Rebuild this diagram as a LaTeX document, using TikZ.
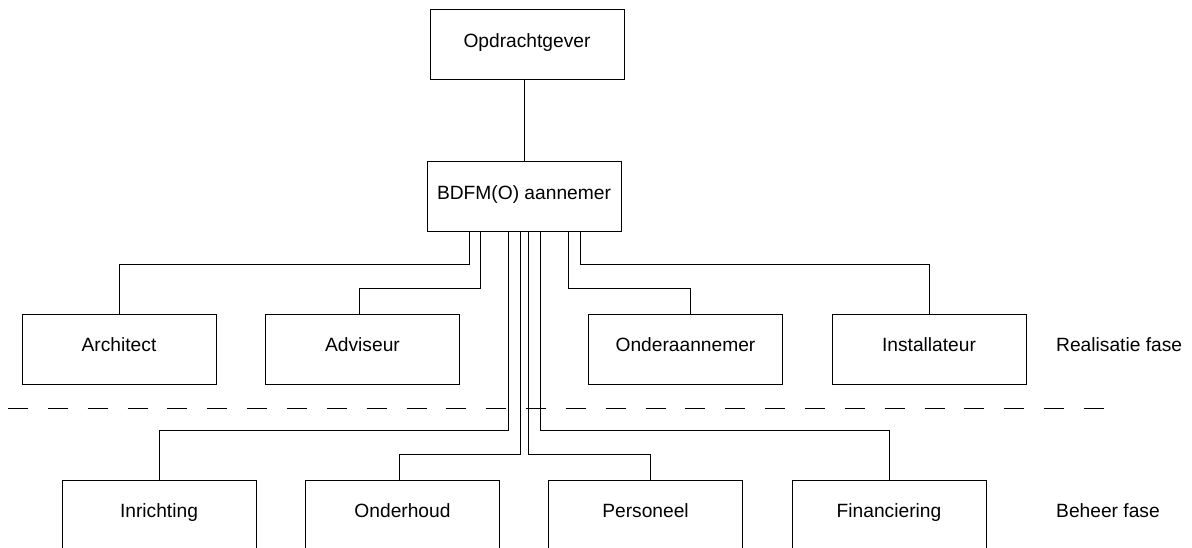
\documentclass[tikz,border=0pt]{standalone}
\usepackage{fontspec}
\setmainfont{Liberation Sans}
\usetikzlibrary{calc}
\begin{document}
\begin{tikzpicture}[x=1pt,y=-1pt,
  lbl/.style={font=\fontsize{19.2}{23}\selectfont,text height=14pt,text depth=9pt},
  box/.style={lbl,draw,line width=1pt,minimum width=194pt,minimum height=70pt,inner sep=0pt},
  phase/.style={lbl,anchor=west,inner sep=0pt},
  link/.style={line width=1pt},
  sep/.style={line width=1pt,dash pattern=on 20pt off 19.85pt}]
\useasboundingbox (0,0) rectangle (1192,548);
\clip (0,0) rectangle (1192,548);

% client and main contractor
\node[box] (opd)  at (527,45)  {Opdrachtgever};
\node[box] (bdfm) at (524,197) {BDFM(O) aannemer};

% realisation phase parties
\node[box] (arch) at (119,349)   {Architect};
\node[box] (adv)  at (362.5,349) {Adviseur};
\node[box] (ond)  at (685.5,349) {Onderaannemer};
\node[box] (inst) at (929,349)   {Installateur};

% maintenance phase parties
\node[box] (inr)  at (159,515)   {Inrichting};
\node[box] (onh)  at (402.5,515) {Onderhoud};
\node[box] (pers) at (645.5,515) {Personeel};
\node[box] (fin)  at (889,515)   {Financiering};

% phase labels
\node[phase] (realisatie) at (1056,349) {Realisatie fase};
\node[phase] (beheer)     at (1056,515) {Beheer fase};

% phase separator
\coordinate (sepL) at (8,408);
\coordinate (sepR) at (1104,408);
\draw[sep] (sepL) -- (sepR);

% connectors
\draw[link] (opd.south -| bdfm.north) -- (bdfm.north);
\draw[link] ($(bdfm.south)+(-55,0)$) -- ++(0,32)  -| (arch.north);
\draw[link] ($(bdfm.south)+(-44,0)$) -- ++(0,56)  -| ($(adv.north)+(-3.5,0)$);
\draw[link] ($(bdfm.south)+(44,0)$)  -- ++(0,56)  -| ($(ond.north)+(4.5,0)$);
\draw[link] ($(bdfm.south)+(56,0)$)  -- ++(0,32)  -| (inst.north);
\draw[link] ($(bdfm.south)+(-16,0)$) -- ++(0,198) -| (inr.north);
\draw[link] ($(bdfm.south)+(-4,0)$)  -- ++(0,222) -| ($(onh.north)+(-3.5,0)$);
\draw[link] ($(bdfm.south)+(4,0)$)   -- ++(0,222) -| ($(pers.north)+(4.5,0)$);
\draw[link] ($(bdfm.south)+(16,0)$)  -- ++(0,198) -| (fin.north);
\end{tikzpicture}
\end{document}
